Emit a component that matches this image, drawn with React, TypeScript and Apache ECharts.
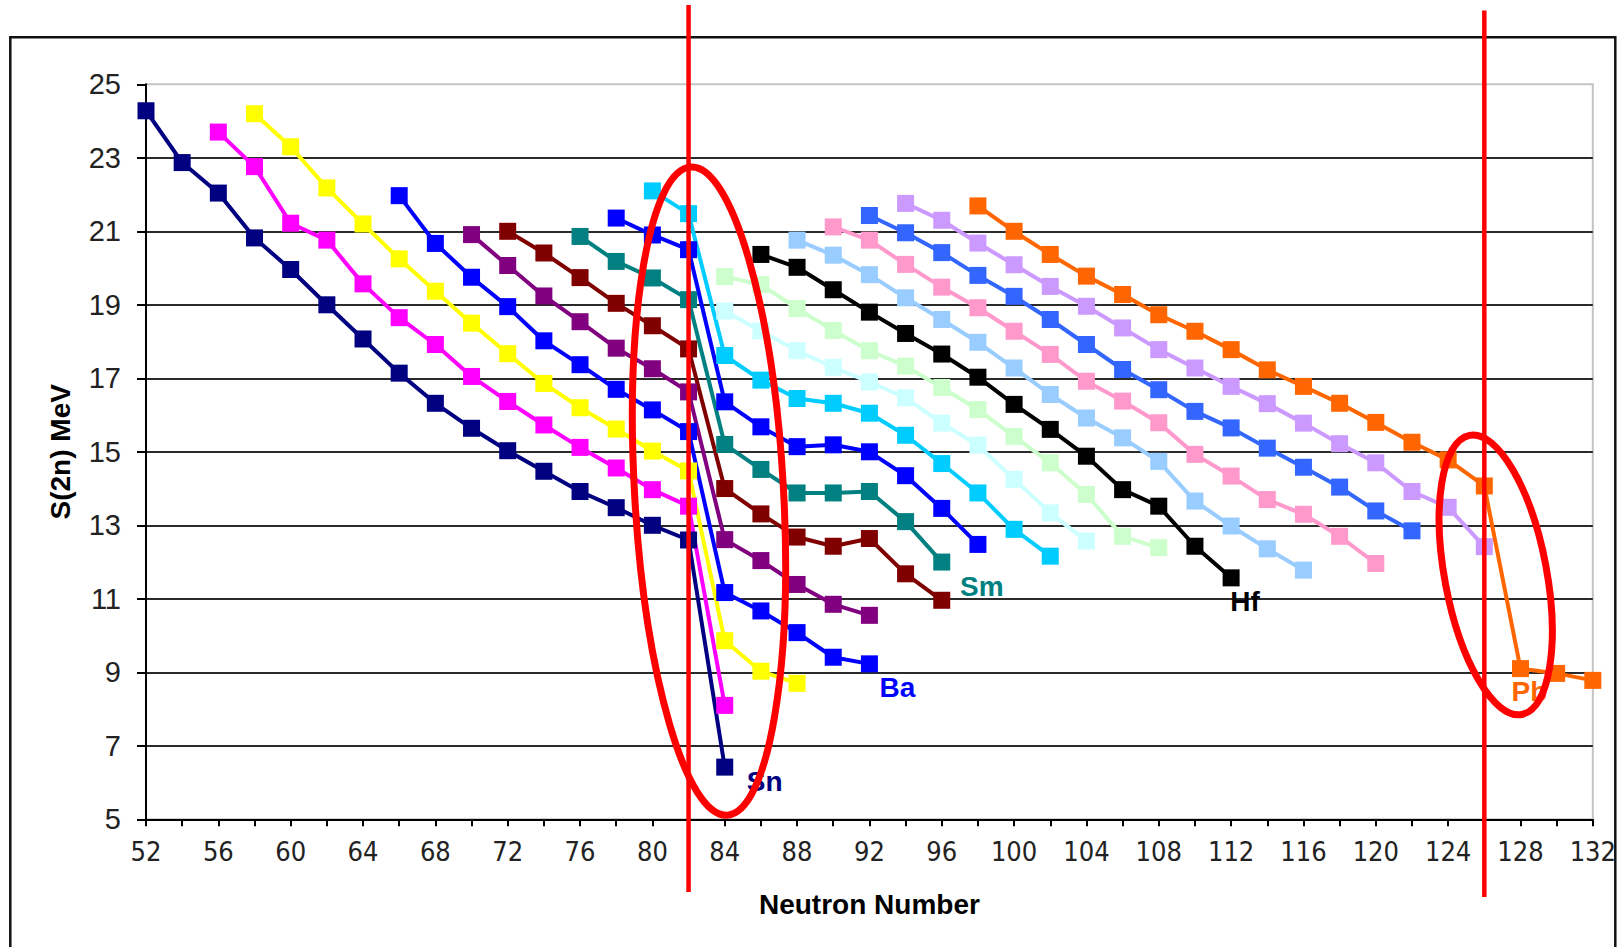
import React, { useEffect, useRef } from "react";
import * as echarts from "echarts";

// ---------- axis definitions ----------
const X_MIN = 52;
const X_MAX = 132;
const X_STEP = 2;
const Y_MIN = 5;
const Y_MAX = 25;
const Y_STEP = 2;
const X_TITLE = "Neutron Number";
const Y_TITLE = "S(2n) MeV";

// ---------- series (isotopic chains, even N from FIRST_N upward) ----------
const SERIES_NAMES = ["Sn", "Te", "Xe", "Ba", "Ce", "Nd", "Sm", "Gd", "Dy", "Er", "Yb", "Hf", "W", "Os", "Pt", "Hg", "Pb"];
const SERIES_COLORS = [
  "#000080", "#FF00FF", "#FFFF00", "#0000FF", "#800080", "#800000", "#008080", "#0000FF",
  "#00CCFF", "#CCFFFF", "#CCFFCC", "#000000", "#99CCFF", "#FF99CC", "#3366FF", "#CC99FF", "#FF6600",
];
const FIRST_N = [52, 56, 58, 66, 70, 72, 76, 78, 80, 84, 84, 86, 88, 90, 92, 94, 98];

const snS2n = [24.28, 22.87, 22.04, 20.82, 19.96, 19.0, 18.07, 17.14, 16.32, 15.64, 15.03, 14.47, 13.92, 13.48, 13.0, 12.6, 6.42];
const teS2n = [23.7, 22.76, 21.22, 20.76, 19.57, 18.65, 17.92, 17.05, 16.37, 15.73, 15.12, 14.56, 13.97, 13.52, 8.1];
const xeS2n = [24.2, 23.3, 22.18, 21.2, 20.25, 19.37, 18.5, 17.67, 16.86, 16.2, 15.62, 15.02, 14.48, 9.86, 9.03, 8.7];
const baS2n = [21.97, 20.67, 19.75, 18.95, 18.02, 17.37, 16.7, 16.14, 15.55, 11.17, 10.67, 10.08, 9.41, 9.23];
const ceS2n = [20.91, 20.07, 19.24, 18.54, 17.82, 17.26, 16.63, 12.61, 12.04, 11.39, 10.85, 10.55];
const ndS2n = [21.0, 20.41, 19.74, 19.04, 18.43, 17.8, 14.0, 13.31, 12.68, 12.43, 12.64, 11.68, 10.96];
const smS2n = [20.86, 20.18, 19.73, 19.14, 15.2, 14.52, 13.88, 13.88, 13.92, 13.1, 12.0];
const gdS2n = [21.36, 20.9, 20.5, 16.36, 15.68, 15.14, 15.19, 15.0, 14.35, 13.46, 12.48];
const dyS2n = [22.1, 21.48, 17.62, 16.95, 16.45, 16.32, 16.05, 15.45, 14.68, 13.88, 12.89, 12.16];
const erS2n = [18.83, 18.29, 17.75, 17.3, 16.9, 16.47, 15.78, 15.18, 14.25, 13.34, 12.57];
const ybS2n = [19.77, 19.55, 18.9, 18.3, 17.75, 17.33, 16.75, 16.15, 15.42, 14.7, 13.84, 12.7, 12.39];
const hfS2n = [20.37, 20.02, 19.41, 18.8, 18.22, 17.66, 17.03, 16.29, 15.61, 14.88, 13.97, 13.52, 12.43, 11.57];
const wS2n = [20.76, 20.35, 19.82, 19.19, 18.6, 17.98, 17.28, 16.56, 15.92, 15.38, 14.74, 13.66, 12.98, 12.36, 11.78];
const osS2n = [21.12, 20.76, 20.1, 19.48, 18.92, 18.28, 17.65, 16.92, 16.38, 15.79, 14.93, 14.34, 13.7, 13.3, 12.7, 11.96];
const ptS2n = [21.43, 20.96, 20.42, 19.8, 19.23, 18.6, 17.92, 17.24, 16.69, 16.1, 15.65, 15.1, 14.58, 14.04, 13.39, 12.85];
const hgS2n = [21.76, 21.3, 20.68, 20.09, 19.5, 18.96, 18.37, 17.78, 17.28, 16.78, 16.31, 15.78, 15.22, 14.7, 13.92, 13.49, 12.42];
const pbS2n = [21.69, 21.0, 20.37, 19.78, 19.28, 18.73, 18.28, 17.78, 17.23, 16.78, 16.32, 15.8, 15.26, 14.78, 14.07, 9.1, 8.97, 8.78];

const SERIES_VALUES = [snS2n, teS2n, xeS2n, baS2n, ceS2n, ndS2n, smS2n, gdS2n, dyS2n, erS2n, ybS2n, hfS2n, wS2n, osS2n, ptS2n, hgS2n, pbS2n];

// element labels: which chain, at which N the label hangs
const LABEL_SERIES = ["Sn", "Ba", "Sm", "Hf", "Pb"];
const LABEL_AT_N = [84, 92, 96, 112, 128];
const LABEL_OFFSET: number[][] = [[40, 14], [28, 24], [40, 24], [14, 24], [9, 23]];

// shell closures marked with red lines / ellipses
const MAGIC_N = [82, 126];

const FONT = "'Liberation Sans', Arial, sans-serif";
const NARROW = "'Liberation Sans Narrow', 'DejaVu Sans Condensed', 'Liberation Sans', sans-serif";

export default function App() {
  const ref = useRef<HTMLDivElement>(null);

  useEffect(() => {
    if (!ref.current) return;
    const chart = echarts.init(ref.current, undefined, { renderer: "svg" });

    const series = SERIES_NAMES.map((name, si) => {
      const li = LABEL_SERIES.indexOf(name);
      const data = SERIES_VALUES[si].map((v, i) => {
        const n = FIRST_N[si] + i * 2;
        if (li >= 0 && LABEL_AT_N[li] === n) {
          return {
            value: [n, v],
            label: {
              show: true,
              formatter: name,
              position: "inside",
              offset: LABEL_OFFSET[li],
              color: SERIES_COLORS[si],
              fontFamily: FONT,
              fontWeight: "bold",
              fontSize: 28,
            },
          };
        }
        return [n, v];
      });
      return {
        name,
        type: "line",
        data,
        symbol: "rect",
        symbolSize: 17,
        color: SERIES_COLORS[si],
        lineStyle: { width: 4, color: SERIES_COLORS[si] },
        itemStyle: { color: SERIES_COLORS[si] },
        emphasis: { disabled: true },
      };
    });

    const option: any = {
      animation: false,
      backgroundColor: "#ffffff",
      grid: {
        left: 146,
        right: 23.7,
        top: 84.3,
        bottom: 127.7,
        show: true,
        borderColor: "#c4c4c4",
        borderWidth: 2,
        backgroundColor: "transparent",
      },
      xAxis: {
        type: "value",
        min: X_MIN,
        max: X_MAX,
        interval: X_STEP,
        name: X_TITLE,
        nameLocation: "middle",
        nameGap: 71,
        nameTextStyle: { fontFamily: FONT, fontWeight: "bold", fontSize: 28, color: "#000", lineHeight: 28 },
        axisLine: { show: true, onZero: false, lineStyle: { color: "#000", width: 2 } },
        axisTick: { show: true, length: 7, lineStyle: { color: "#000", width: 2 } },
        axisLabel: {
          margin: 19,
          fontFamily: NARROW,
          fontSize: 27,
          lineHeight: 27,
          color: "#222",
          showMinLabel: true,
          showMaxLabel: true,
          formatter: (v: number) => (v % 4 === 0 ? String(v) : ""),
        },
        splitLine: { show: false },
      },
      yAxis: {
        type: "value",
        min: Y_MIN,
        max: Y_MAX,
        interval: Y_STEP,
        name: Y_TITLE,
        nameLocation: "middle",
        nameGap: 72,
        nameTextStyle: { fontFamily: FONT, fontWeight: "bold", fontSize: 28, color: "#000" },
        axisLine: { show: true, onZero: false, lineStyle: { color: "#000", width: 2 } },
        axisTick: { show: true, length: 9, lineStyle: { color: "#000", width: 2 } },
        axisLabel: { margin: 25, fontFamily: FONT, fontSize: 29, color: "#222" },
        splitLine: { show: true, showMinLine: false, showMaxLine: false, lineStyle: { color: "#2a2a2a", width: 2 } },
      },
      series,
    };

    chart.setOption(option);

    const px = (n: number, v: number) => chart.convertToPixel({ gridIndex: 0 }, [n, v]) as number[];
    const lineTops = [5, 10.5];
    const lineBottoms = [892, 897];
    const redLines = MAGIC_N.map((n, i) => {
      const x = px(n, Y_MIN)[0];
      return {
        type: "line",
        z: 120,
        shape: { x1: x, y1: lineTops[i], x2: x, y2: lineBottoms[i] },
        style: { stroke: "#FF0000", lineWidth: 4.5 },
      };
    });
    // ellipse centres in data space, radii in px
    const ellipseCentres = [[83.13, 13.93], [126.63, 11.65]];
    const ellipseRadii = [[74.5, 324.7], [51, 142]];
    const ellipseTilt = [0.056, 0.185];
    const ellipses = ellipseCentres.map((c, i) => {
      const p = px(c[0], c[1]);
      return {
        type: "ellipse",
        z: 121,
        x: p[0],
        y: p[1],
        rotation: ellipseTilt[i],
        shape: { cx: 0, cy: 0, rx: ellipseRadii[i][0], ry: ellipseRadii[i][1] },
        style: { fill: "transparent", stroke: "#FF0000", lineWidth: 7 },
      };
    });

    chart.setOption({
      graphic: [
        {
          type: "rect",
          z: 1,
          shape: { x: 10.3, y: 37.3, width: 1605, height: 1000 },
          style: { fill: "transparent", stroke: "#111", lineWidth: 2.5 },
        },
        ...redLines,
        ...ellipses,
      ],
    });

    return () => chart.dispose();
  }, []);

  return (
    <div
      ref={ref}
      style={{ position: "fixed", left: 0, top: 0, width: 1619, height: 947, background: "#fff" }}
    />
  );
}
